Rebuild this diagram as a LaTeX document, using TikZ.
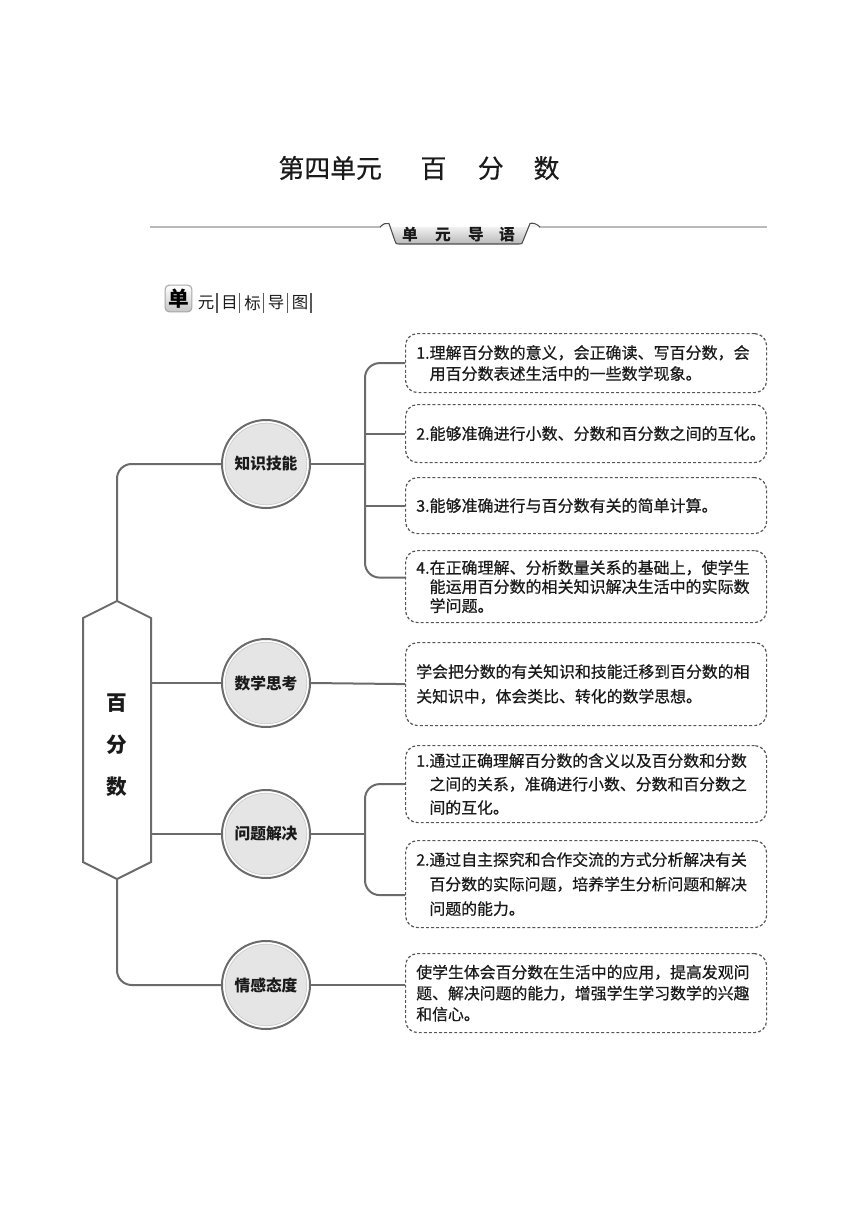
\documentclass[tikz,border=0pt]{standalone}
\usepackage{fontspec}
\setmainfont{Noto Sans CJK SC}
\newfontfamily\bxf{Noto Sans CJK SC}[BoldFont=Noto Sans CJK SC, BoldFeatures={FakeBold=0.6}]
\usetikzlibrary{calc}
\definecolor{ln}{HTML}{6B6B6B}
\definecolor{dsh}{HTML}{555555}
\definecolor{txt}{HTML}{1A1A1A}
\definecolor{cfill}{HTML}{E5E5E5}
\begin{document}
\begin{tikzpicture}[x=0.75pt,y=-0.75pt,
  conn/.style={draw=ln, line width=1.5pt},
  goalbox/.style={draw=dsh, line width=0.9pt, dash pattern=on 2.2pt off 1.6pt,
    rounded corners=9pt, minimum width=270.75pt, text width=254.75pt,
    inner xsep=8pt, inner ysep=0pt, align=left, anchor=north west, text=txt,
    minimum height=#1},
  circ/.style={circle, draw=ln, line width=1.5pt, fill=white, minimum size=66pt,
    inner sep=0pt, text=txt, font=\bfseries\fontsize{11.8pt}{14pt}\selectfont,
    path picture={\fill[cfill] (path picture bounding box.center) circle[radius=30.6pt];
      \draw[gray!45, line width=0.4pt] (path picture bounding box.center) circle[radius=30.6pt];}},
  chr/.style={inner sep=0pt, text=txt, font=\fontsize{12.3pt}{14pt}\selectfont},
  tabch/.style={inner sep=0pt, text=txt, font=\bfseries\fontsize{11.8pt}{14pt}\selectfont}
]
\useasboundingbox (0,0) rectangle (860,1216);

% title
\node[inner sep=0pt, text=txt, font=\bxf\bfseries\fontsize{19.4pt}{22pt}\selectfont] (title) at (419,168)
  {第四单元\hspace{29pt}百\hspace{23.5pt}分\hspace{22.5pt}数};

% top rule with tab
\draw[gray!55, line width=1.3pt] (150,227) -- (381,227);
\draw[gray!55, line width=1.3pt] (539,227) -- (767,227);
\draw[draw=gray!60!black, line width=0.8pt, top color=white, bottom color=gray!55]
  (380,227) .. controls (383,224) and (386,222.5) .. (389,223.5) -- (395,241)
  .. controls (396,244) .. (399,244) -- (519,244) .. controls (522,244) .. (523,241)
  -- (530,223.5) .. controls (533,222.5) and (537,224) .. (540,227);
\node[tabch] (t1) at (410,235) {单};
\node[tabch] (t2) at (443,235) {元};
\node[tabch] (t3) at (476,235) {导};
\node[tabch] (t4) at (507,235) {语};

% unit target map heading
\node[draw=gray!70, line width=0.8pt, rounded corners=3pt, top color=white, bottom color=gray!45,
  minimum width=20pt, minimum height=20pt, inner sep=0pt, text=black,
  font=\bfseries\fontsize{15.5pt}{16pt}\selectfont] (icon) at (178.5,298.5) {单};
\node[chr] (h1) at (206,303) {元};
\node[chr] (h2) at (229.5,303) {目};
\node[chr] (h3) at (252.5,303) {标};
\node[chr] (h4) at (276,303) {导};
\node[chr] (h5) at (300,303) {图};
\foreach \bx in {217,239.5,263.5,287.5,311}
  \draw[gray!70!black, line width=0.9pt] (\bx,293) -- (\bx,313);

% hexagon
\coordinate (hexT) at (117,601);
\coordinate (hexB) at (117,879);
\draw[ln, line width=1.5pt, fill=white] (hexT) -- (151,618) -- (151,862) -- (hexB)
  -- (83,862) -- (83,618) -- cycle;
\node[inner sep=0pt, minimum width=51pt, minimum height=183pt, align=center, text=txt,
  font=\bfseries\fontsize{15.5pt}{31.5pt}\selectfont] (hex) at (117,745) {百\\分\\数};

% circles
\node[circ] (c1) at (266,464) {知识技能};
\node[circ] (c2) at (266,683) {数学思考};
\node[circ] (c3) at (266,834) {问题解决};
\node[circ] (c4) at (266,985) {情感态度};

% goal boxes
\node[goalbox=44.25pt, font=\bxf\bfseries\fontsize{12pt}{15.75pt}\selectfont] (b1) at (405,333)
  {1.理解百分数的意义，会正确读、写百分数，会\\\phantom{1.}用百分数表述生活中的一些数学现象。};
\node[goalbox=43.5pt, font=\bxf\bfseries\fontsize{12pt}{15.75pt}\selectfont] (b2) at (405,404)
  {2.能够准确进行小数、分数和百分数之间的互化。};
\node[goalbox=42pt, font=\bxf\bfseries\fontsize{12pt}{15.75pt}\selectfont] (b3) at (405,477)
  {3.能够准确进行与百分数有关的简单计算。};
\node[goalbox=54pt, font=\bxf\bfseries\fontsize{12pt}{14.3pt}\selectfont] (b4) at (405,550)
  {4.在正确理解、分析数量关系的基础上，使学生\\\phantom{4.}能运用百分数的相关知识解决生活中的实际数\\\phantom{4.}学问题。};
\node[goalbox=62.25pt, font=\bxf\bfseries\fontsize{11.9pt}{18.5pt}\selectfont] (b5) at (405,642)
  {学会把分数的有关知识和技能迁移到百分数的相\\关知识中，体会类比、转化的数学思想。};
\node[goalbox=57.75pt, font=\bxf\bfseries\fontsize{11.9pt}{17.6pt}\selectfont] (b6) at (405,745)
  {1.通过正确理解百分数的含义以及百分数和分数\\\phantom{1.}之间的关系，准确进行小数、分数和百分数之\\\phantom{1.}间的互化。};
\node[goalbox=65.25pt, font=\bxf\bfseries\fontsize{11.9pt}{18.4pt}\selectfont] (b7) at (405,840)
  {2.通过自主探究和合作交流的方式分析解决有关\\\phantom{2.}百分数的实际问题，培养学生分析问题和解决\\\phantom{2.}问题的能力。};
\node[goalbox=59.25pt, font=\bxf\bfseries\fontsize{11.9pt}{15.75pt}\selectfont] (b8) at (405,953)
  {使学生体会百分数在生活中的应用，提高发观问\\题、解决问题的能力，增强学生学习数学的兴趣\\和信心。};

% connectors: spine
\draw[conn, rounded corners=11pt] (hexT) |- (c1.west);
\draw[conn, rounded corners=11pt] (hexB) |- (c4.west);
\draw[conn] (hex.east |- c2.west) -- (c2.west);
\draw[conn] (hex.east |- c3.west) -- (c3.west);

% bracket 1
\coordinate (k1) at (365,464);
\coordinate (j4) at ($(b4.west)+(0,-9)$);
\draw[conn, rounded corners=11pt] (b1.west) -| (k1) |- (j4);
\draw[conn] (c1.east) -- (k1);
\draw[conn] (b2.west) -- (b2.west -| k1);
\draw[conn] (b3.west) -- (b3.west -| k1);

% middle
\draw[conn] (c2.east) -- (b5.west);

% bracket 2
\coordinate (k2) at (365,834);
\coordinate (j7) at ($(b7.west)+(0,11)$);
\draw[conn, rounded corners=11pt] (b6.west) -| (k2) |- (j7);
\draw[conn] (c3.east) -- (k2);

% bottom
\draw[conn] (c4.east) -- (c4.east -| b8.west);
\end{tikzpicture}
\end{document}
